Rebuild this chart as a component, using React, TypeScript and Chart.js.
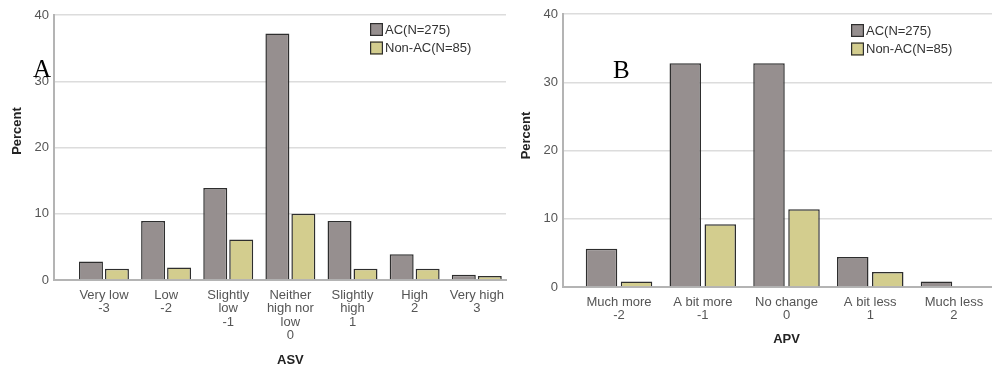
import React, { useEffect, useRef } from 'react';
import { Chart, registerables } from 'chart.js';

Chart.register(...registerables);

// ---- data ----
const asvCategories: string[][] = [
  ['Very low', '-3'],
  ['Low', '-2'],
  ['Slightly', 'low', '-1'],
  ['Neither', 'high nor', 'low', '0'],
  ['Slightly', 'high', '1'],
  ['High', '2'],
  ['Very high', '3'],
];
const asvAC = [2.8, 8.9, 13.9, 37.2, 8.9, 3.9, 0.8];
const asvNonAC = [1.7, 1.9, 6.1, 10.0, 1.7, 1.7, 0.6];

const apvCategories: string[][] = [
  ['Much more', '-2'],
  ['A bit more', '-1'],
  ['No change', '0'],
  ['A bit less', '1'],
  ['Much less', '2'],
];
const apvAC = [5.6, 32.8, 32.8, 4.4, 0.8];
const apvNonAC = [0.8, 9.2, 11.4, 2.2, 0.0];

const yTicks = [0, 10, 20, 30, 40];
const seriesLabels = ['AC(N=275)', 'Non-AC(N=85)'];

const AC_COLOR = '#968f8f';
const NONAC_COLOR = '#d3cd8e';
const BORDER = '#2e2e2e';
const FONT = '"Liberation Sans", Arial, sans-serif';

const decorPlugin = {
  id: 'decor',
  afterDraw(chart: any, _args: any, opts: any) {
    const { ctx } = chart;
    const xs = chart.scales.x;
    ctx.save();
    // x title
    ctx.font = `bold 13px ${FONT}`;
    ctx.fillStyle = '#222';
    ctx.textAlign = 'center';
    ctx.textBaseline = 'middle';
    ctx.fillText(opts.xTitle, xs.getPixelForValue((opts.n - 1) / 2), opts.xTitleY);
    // y title
    ctx.save();
    ctx.translate(opts.yTitleX, opts.yTitleY);
    ctx.rotate(-Math.PI / 2);
    ctx.fillText('Percent', 0, 0);
    ctx.restore();
    // panel letter
    ctx.font = `25px "Liberation Serif", "Times New Roman", serif`;
    ctx.fillStyle = '#000';
    ctx.textAlign = 'left';
    ctx.textBaseline = 'alphabetic';
    ctx.fillText(opts.letter, opts.letterX, opts.letterY);
    // legend
    ctx.font = `13px ${FONT}`;
    ctx.textBaseline = 'middle';
    chart.data.datasets.forEach((ds: any, i: number) => {
      const bx = opts.legendX;
      const by = opts.legendY + i * 18.5;
      ctx.fillStyle = ds.backgroundColor;
      ctx.fillRect(bx, by, 13, 13);
      ctx.strokeStyle = ds.borderColor;
      ctx.lineWidth = 1.2;
      ctx.strokeRect(bx + 0.6, by + 0.6, 11.8, 11.8);
      ctx.fillStyle = '#333';
      ctx.fillText(ds.label, bx + 15, by + 7);
    });
    ctx.restore();
  },
};

interface PanelProps {
  width: number;
  left: number;
  categories: string[][];
  ac: number[];
  nonAc: number[];
  xMin: number;
  xMax: number;
  yAxisWidth: number;
  top: number;
  bottom: number;
  rightPad: number;
  catPct: number;
  barPct: number;
  decor: any;
}

function Panel(p: PanelProps) {
  const ref = useRef<HTMLCanvasElement | null>(null);
  useEffect(() => {
    document.body.style.margin = '0';
    if (!ref.current) return;
    const mk = (vals: number[]) => vals.map((v, i) => ({ x: i, y: v }));
    const chart = new Chart(ref.current, {
      type: 'bar',
      data: {
        datasets: [
          {
            label: seriesLabels[0],
            data: mk(p.ac),
            backgroundColor: AC_COLOR,
            borderColor: BORDER,
            borderWidth: 1.5,
            categoryPercentage: p.catPct,
            barPercentage: p.barPct,
          },
          {
            label: seriesLabels[1],
            data: mk(p.nonAc),
            backgroundColor: NONAC_COLOR,
            borderColor: BORDER,
            borderWidth: 1.5,
            categoryPercentage: p.catPct,
            barPercentage: p.barPct,
          },
        ] as any,
      },
      options: {
        animation: false,
        responsive: false,
        layout: { padding: { top: p.top, right: p.rightPad, left: 0, bottom: 0 } },
        plugins: {
          legend: { display: false },
          tooltip: { enabled: false },
          decor: p.decor,
        } as any,
        scales: {
          x: {
            type: 'linear',
            offset: false,
            min: p.xMin,
            max: p.xMax,
            afterBuildTicks: (s: any) => {
              s.ticks = p.categories.map((_, i) => ({ value: i }));
            },
            afterFit: (s: any) => {
              s.height = 369 - p.bottom;
              s.paddingLeft = 0;
              s.paddingRight = 0;
            },
            grid: { display: false, drawTicks: false, offset: false },
            border: { display: true, color: '#b4b4b4', width: 2 },
            ticks: {
              autoSkip: false,
              maxRotation: 0,
              minRotation: 0,
              padding: 8.5,
              color: '#555',
              font: { family: FONT, size: 13, lineHeight: 1.04 },
              callback: (v: any) => p.categories[Math.round(Number(v))] ?? '',
            },
          },
          y: {
            min: 0,
            max: 40,
            afterBuildTicks: (s: any) => {
              s.ticks = yTicks.map((v) => ({ value: v }));
            },
            afterFit: (s: any) => {
              s.width = p.yAxisWidth;
              s.paddingTop = 0;
              s.paddingBottom = 0;
            },
            grid: { color: '#dcdcdc', lineWidth: 1.5, drawTicks: false },
            border: { display: true, color: '#b4b4b4', width: 2 },
            ticks: {
              padding: 5,
              color: '#555',
              font: { family: FONT, size: 13 },
            },
          },
        } as any,
      },
      plugins: [decorPlugin as any],
    });
    return () => chart.destroy();
  }, []);
  return (
    <canvas
      ref={ref}
      width={p.width}
      height={369}
      style={{ position: 'absolute', left: p.left, top: 0, width: p.width, height: 369 }}
    />
  );
}

export default function App() {
  return (
    <div style={{ position: 'absolute', left: 0, top: 0, width: 992, height: 369, background: '#fff' }}>
      <Panel
        width={508}
        left={0}
        categories={asvCategories}
        ac={asvAC}
        nonAc={asvNonAC}
        xMin={-0.804}
        xMax={6.47}
        yAxisWidth={54}
        top={15}
        bottom={280}
        rightPad={2}
        catPct={0.836}
        barPct={0.923}
        decor={{
          n: asvCategories.length,
          xTitle: 'ASV',
          xTitleY: 360,
          yTitleX: 17.5,
          yTitleY: 131,
          letter: 'A',
          letterX: 33,
          letterY: 77,
          legendX: 370,
          legendY: 23,
        }}
      />
      <Panel
        width={484}
        left={508}
        categories={apvCategories}
        ac={apvAC}
        nonAc={apvNonAC}
        xMin={-0.669}
        xMax={4.454}
        yAxisWidth={55}
        top={14}
        bottom={287}
        rightPad={0}
        catPct={0.836}
        barPct={0.9}
        decor={{
          n: apvCategories.length,
          xTitle: 'APV',
          xTitleY: 339,
          yTitleX: 18,
          yTitleY: 135.5,
          letter: 'B',
          letterX: 105,
          letterY: 78,
          legendX: 343,
          legendY: 24,
        }}
      />
    </div>
  );
}
